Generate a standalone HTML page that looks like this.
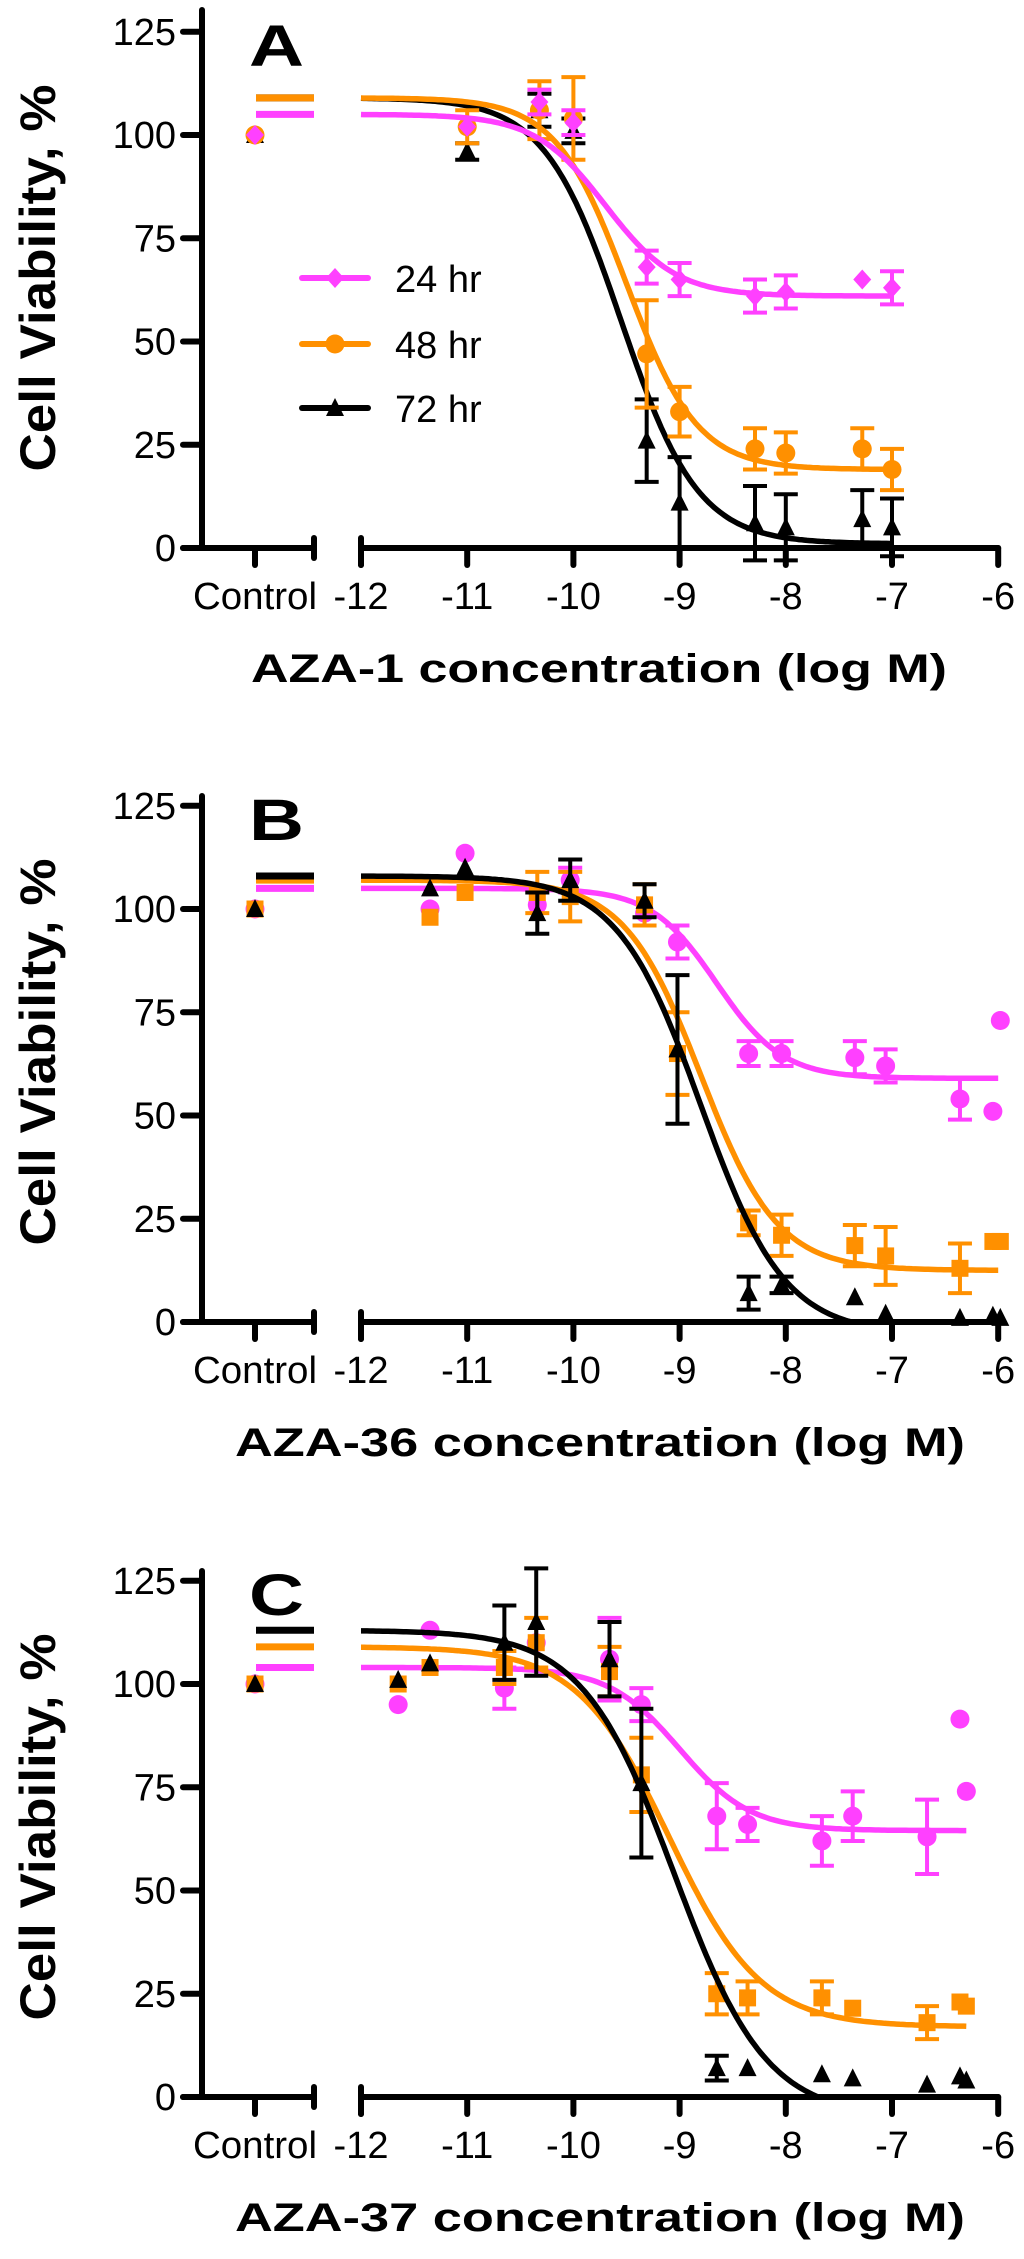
<!DOCTYPE html>
<html><head><meta charset="utf-8"><style>
html,body{margin:0;padding:0;background:#fff;}
svg{display:block;}
text{font-family:"Liberation Sans",Arial,sans-serif;}
</style></head><body>
<svg id="fig" width="1024" height="2259" viewBox="0 0 1024 2259" xmlns="http://www.w3.org/2000/svg"></svg>
<script>
// ---- Panel A data (AZA-1) ----
const A_x = [-11, -10.32, -10, -9.31, -9, -8.29, -8, -7.28, -7];
const A_24 = [102, 108, 103, 68, 65, 61, 62, 65, 63];
const A_24e = [0, 3, 3, 4, 4, 4, 4, 0, 4];
const A_48 = [102, 106, 104, 47, 33, 24, 23, 24, 19];
const A_48e = [4, 7, 10, 13, 6, 5, 5, 5, 5];
const A_72 = [96, 106, 101, 26, 11, 6, 5, 7, 5];
const A_72e = [2, 4, 3, 10, 11, 9, 8, 7, 7];
const A_fit24 = [105, 61, -9.7, 1.3];
const A_fit48 = [109, 19, -9.5, 1.3];
const A_fit72 = [109, 1, -9.55, 1.2];
// ---- Panel B data (AZA-36) ----
const B_x = [-11.35, -11.02, -10.34, -10.03, -9.33, -9.02, -8.35, -8.04, -7.35, -7.06, -6.36, -6.05, -5.98];
const B_24 = [100, 113.5, 101, 107, 99, 92, 65, 65, 64, 62, 54, 51, 73];
const B_24e = [0, 0, 0, 3, 0, 4, 3, 3, 4, 4, 5, 0, 0];
const B_48 = [98, 104, 104, 103, 101, 65, 24, 21, 18.5, 16, 13, 19.5, 19.5];
const B_48e = [0, 0, 5, 6, 5, 10, 3, 5, 5, 7, 6, 0, 0];
const B_72 = [105, 110, 99, 107, 102, 66, 7, 9, 6, 2, 1, 1.5, 1];
const B_72e = [0, 0, 5, 5, 4, 18, 4, 2, 0, 0, 0, 0, 0];
const B_fit24 = [105, 59, -8.65, 1.4];
const B_fit48 = [107, 12.5, -8.8, 1.2];
const B_fit72 = [108, -3, -8.8, 1.1];
// ---- Panel C data (AZA-37) ----
const C_x = [-11.65, -11.35, -10.65, -10.35, -9.66, -9.36, -8.65, -8.36, -7.66, -7.37, -6.67, -6.36, -6.3];
const C_24 = [95, 113, 99, 110, 106, 95, 68, 66, 62, 68, 63, 91.5, 74];
const C_24e = [0, 0, 5, 0, 10, 4, 8, 4, 6, 6, 9, 0, 0];
const C_48 = [100, 104, 104, 110, 103, 78, 25, 24, 24, 21.5, 18, 23, 22];
const C_48e = [0, 0, 4, 6, 6, 9, 5, 4, 4, 0, 4, 0, 0];
const C_72 = [101, 105, 110, 115, 106, 76, 7, 7, 5.5, 4.5, 3, 5, 4];
const C_72e = [0, 0, 9, 13, 9, 18, 3, 0, 0, 0, 0, 0, 0];
const C_fit24 = [104, 64.5, -9.0, 1.3];
const C_fit48 = [109, 17, -9.1, 1.0];
const C_fit72 = [113, -5, -9.05, 1.0];
// axis ticks
const yTicks = [0, 25, 50, 75, 100, 125];
const xTicks = [-12, -11, -10, -9, -8, -7, -6];
const controlValue = 100;

const NS = "http://www.w3.org/2000/svg";
const svg = document.getElementById('fig');
const MAG = "#ff40ff", ORG = "#ff9000", BLK = "#000";

function mk(tag, attrs, parent) {
  const e = document.createElementNS(NS, tag);
  for (const k in attrs) e.setAttribute(k, attrs[k]);
  parent.appendChild(e);
  return e;
}
function xs(l) { return 361 + 106.2 * (l + 12); }
function ys(v) { return 548 - 4.13 * v; }
function fitVal(p, l) { return p[1] + (p[0] - p[1]) / (1 + Math.pow(10, (l - p[2]) * p[3])); }

function marker(g, shape, cx, cy, color) {
  let m;
  if (shape === 'circle') m = mk('circle', {cx: cx, cy: cy, r: 9.5, fill: color}, g);
  else if (shape === 'square') m = mk('rect', {x: cx - 8.5, y: cy - 8.5, width: 17, height: 17, fill: color}, g);
  else if (shape === 'diamond') m = mk('polygon', {points: `${cx},${cy-10} ${cx+9},${cy} ${cx},${cy+10} ${cx-9},${cy}`, fill: color}, g);
  else m = mk('polygon', {points: `${cx},${cy-10} ${cx+9},${cy+8} ${cx-9},${cy+8}`, fill: color}, g);
  return m;
}

function drawSeries(g, name, xsArr, vals, errs, fit, xEnd, color, shape) {
  const sg = mk('g', {}, g);
  
  
  const tl = mk('line', {x1: 256, x2: 314, y1: ys(fit[0]), y2: ys(fit[0]), stroke: color, 'stroke-width': 7}, sg);
  
  
  let d = '';
  for (let i = 0; i <= 200; i++) {
    const l = -12 + (xEnd + 12) * i / 200;
    const v = Math.max(fitVal(fit, l), 0);
    d += (i ? 'L' : 'M') + xs(l).toFixed(1) + ',' + ys(v).toFixed(1);
  }
  const c = mk('path', {d: d, fill: 'none', stroke: color, 'stroke-width': 5.5}, sg);
  
  
  const cp = marker(sg, shape, 255, ys(controlValue), color);
  
  
  for (let i = 0; i < xsArr.length; i++) {
    const cx = xs(xsArr[i]), cy = ys(vals[i]);
    if (errs[i] > 0) {
      const eb = mk('path', {d: `M${cx},${ys(vals[i]-errs[i])}L${cx},${ys(vals[i]+errs[i])}M${cx-12},${ys(vals[i]+errs[i])}L${cx+12},${ys(vals[i]+errs[i])}M${cx-12},${ys(vals[i]-errs[i])}L${cx+12},${ys(vals[i]-errs[i])}`, stroke: color, 'stroke-width': 4, fill: 'none'}, sg);
      
      
    }
    const p = marker(sg, shape, cx, cy, color);
    
    
  }
}

function drawPanel(off, letter, title, titleX, titleLen, xEnd, series, legend) {
  const g = mk('g', {transform: `translate(0,${off})`}, svg);
  
  
  const ax = mk('g', {stroke: '#000', 'stroke-width': 6, 'stroke-linecap': 'round', fill: 'none'}, g);
  
  
  mk('line', {x1: 202, y1: 10 + (letter === 'A' ? 0 : 12), x2: 202, y2: 548}, ax);
  mk('line', {x1: 183, y1: 548, x2: 314, y2: 548}, ax);
  mk('line', {x1: 314, y1: 538, x2: 314, y2: 558}, ax);
  mk('line', {x1: 255, y1: 548, x2: 255, y2: 565}, ax);
  mk('line', {x1: xs(-12), y1: 548, x2: xs(-6), y2: 548}, ax);
  mk('line', {x1: xs(-12), y1: 538, x2: xs(-12), y2: 565}, ax);
  for (const t of yTicks) mk('line', {x1: 183, y1: ys(t), x2: 202, y2: ys(t)}, ax);
  for (const t of xTicks) mk('line', {x1: xs(t), y1: 548, x2: xs(t), y2: 565}, ax);
  for (const t of yTicks) {
    const tx = mk('text', {x: 176, y: ys(t) + 13, 'font-size': 38, 'text-anchor': 'end'}, g);
    tx.textContent = t;
    
    
  }
  for (const t of xTicks) {
    const tx = mk('text', {x: xs(t), y: 609, 'font-size': 38, 'text-anchor': 'middle'}, g);
    tx.textContent = t;
    
    
  }
  const ct = mk('text', {x: 193, y: 609, 'font-size': 38, textLength: 124, lengthAdjust: 'spacingAndGlyphs'}, g);
  ct.textContent = 'Control';
  
  
  const xt = mk('text', {x: titleX, y: 682, 'font-size': 40, 'font-weight': 'bold', textLength: titleLen, lengthAdjust: 'spacingAndGlyphs'}, g);
  xt.textContent = title;
  
  
  const yt = mk('text', {transform: 'translate(55,278) rotate(-90)', x: 0, y: 0, 'font-size': 50, 'font-weight': 'bold', 'text-anchor': 'middle', textLength: 387, lengthAdjust: 'spacingAndGlyphs'}, g);
  yt.textContent = 'Cell Viability, %';
  
  
  const pl = mk('text', {x: 249, y: 66, 'font-size': 58, 'font-weight': 'bold', textLength: 55, lengthAdjust: 'spacingAndGlyphs'}, g);
  pl.textContent = letter;
  
  
  for (const s of series) drawSeries(g, s[0], s[1], s[2], s[3], s[4], xEnd, s[5], s[6]);
  if (legend) {
    const lg = mk('g', {}, g);
    
    
    const items = [['24 hr', MAG, 'diamond', 278], ['48 hr', ORG, 'circle', 344], ['72 hr', BLK, 'triangle', 408]];
    for (const it of items) {
      const eg = mk('g', {}, lg);
      
      
      mk('line', {x1: 302, x2: 368, y1: it[3], y2: it[3], stroke: it[1], 'stroke-width': 6, 'stroke-linecap': 'round'}, eg);
      marker(eg, it[2], 335, it[3], it[1]);
      const t = mk('text', {x: 395, y: it[3] + 14, 'font-size': 38}, eg);
      t.textContent = it[0];
    }
  }
}

drawPanel(0, 'A', 'AZA-1 concentration (log M)', 251, 696, -7, [
  ['72hr', A_x, A_72, A_72e, A_fit72, BLK, 'triangle'],
  ['48hr', A_x, A_48, A_48e, A_fit48, ORG, 'circle'],
  ['24hr', A_x, A_24, A_24e, A_fit24, MAG, 'diamond']
], true);
drawPanel(774, 'B', 'AZA-36 concentration (log M)', 235, 730, -6, [
  ['24hr', B_x, B_24, B_24e, B_fit24, MAG, 'circle'],
  ['48hr', B_x, B_48, B_48e, B_fit48, ORG, 'square'],
  ['72hr', B_x, B_72, B_72e, B_fit72, BLK, 'triangle']
], false);
drawPanel(1549, 'C', 'AZA-37 concentration (log M)', 235, 730, -6.3, [
  ['24hr', C_x, C_24, C_24e, C_fit24, MAG, 'circle'],
  ['48hr', C_x, C_48, C_48e, C_fit48, ORG, 'square'],
  ['72hr', C_x, C_72, C_72e, C_fit72, BLK, 'triangle']
], false);
</script>
</body></html>
